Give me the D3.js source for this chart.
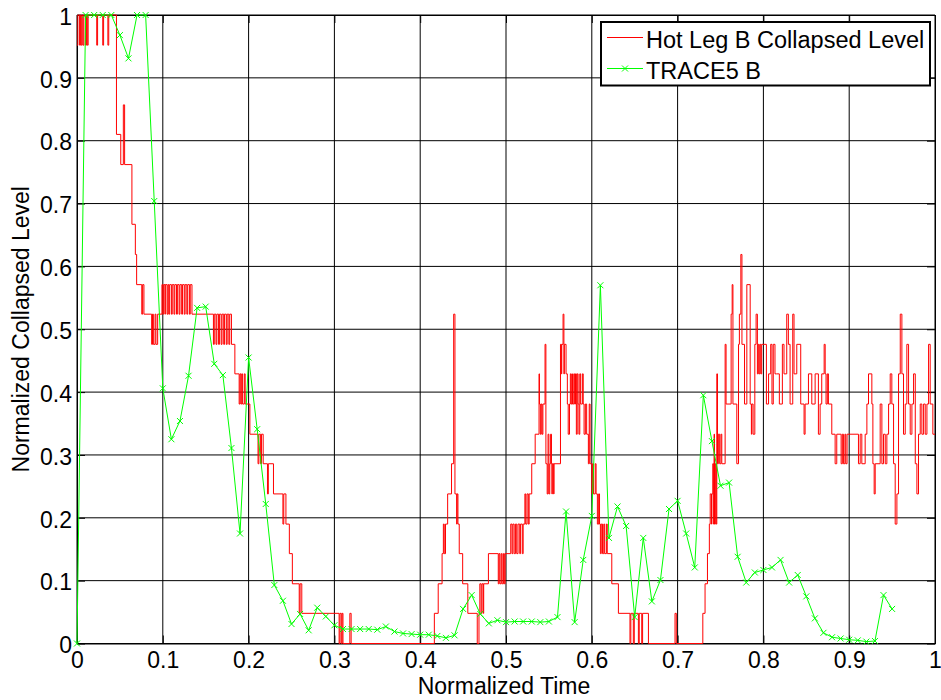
<!DOCTYPE html>
<html lang="en">
<head>
<meta charset="UTF-8" />
<title>Normalized Collapsed Level</title>
<script src="https://d3js.org/d3.v7.min.js"></script>
<style>
  html, body { margin: 0; padding: 0; background: #fff; }
  svg { display: block; font-family: Arial, "Liberation Sans", Helvetica, sans-serif; }
</style>
</head>
<body>
<div id="chart"></div>
<script>
// --- Data ---
const tickValues = [0, 0.1, 0.2, 0.3, 0.4, 0.5, 0.6, 0.7, 0.8, 0.9, 1];
const tickLabels = ["0", "0.1", "0.2", "0.3", "0.4", "0.5", "0.6", "0.7", "0.8", "0.9", "1"];
const seriesNames = ["Hot Leg B Collapsed Level", "TRACE5 B"];

// TRACE5 B, one point every 0.01
const traceTime = [
  0, 0.01, 0.02, 0.03, 0.04, 0.05, 0.06, 0.07, 0.08, 0.09,
  0.10, 0.11, 0.12, 0.13, 0.14, 0.15, 0.16, 0.17, 0.18, 0.19,
  0.20, 0.21, 0.22, 0.23, 0.24, 0.25, 0.26, 0.27, 0.28, 0.29,
  0.30, 0.31, 0.32, 0.33, 0.34, 0.35, 0.36, 0.37, 0.38, 0.39,
  0.40, 0.41, 0.42, 0.43, 0.44, 0.45, 0.46, 0.47, 0.48, 0.49,
  0.50, 0.51, 0.52, 0.53, 0.54, 0.55, 0.56, 0.57, 0.58, 0.59,
  0.60, 0.61, 0.62, 0.63, 0.64, 0.65, 0.66, 0.67, 0.68, 0.69,
  0.70, 0.71, 0.72, 0.73, 0.74, 0.75, 0.76, 0.77, 0.78, 0.79,
  0.80, 0.81, 0.82, 0.83, 0.84, 0.85, 0.86, 0.87, 0.88, 0.89,
  0.90, 0.91, 0.92, 0.93, 0.94, 0.95
];
const traceLevel = [
  0, 1, 1, 1, 1, 0.968, 0.931, 1, 1, 0.704,
  0.406, 0.325, 0.354, 0.426, 0.534, 0.536, 0.445, 0.427, 0.311, 0.175,
  0.455, 0.341, 0.222, 0.093, 0.068, 0.031, 0.047, 0.021, 0.057, 0.043,
  0.029, 0.023, 0.023, 0.023, 0.023, 0.022, 0.027, 0.019, 0.016, 0.015,
  0.014, 0.014, 0.012, 0.009, 0.013, 0.055, 0.077, 0.047, 0.032, 0.037,
  0.034, 0.035, 0.035, 0.035, 0.034, 0.035, 0.042, 0.21, 0.034, 0.133,
  0.203, 0.57, 0.168, 0.218, 0.187, 0.042, 0.168, 0.067, 0.101, 0.214,
  0.227, 0.175, 0.121, 0.395, 0.322, 0.251, 0.256, 0.138, 0.097, 0.113,
  0.117, 0.121, 0.133, 0.097, 0.109, 0.075, 0.040, 0.017, 0.010, 0.008,
  0.006, 0.005, 0.003, 0.004, 0.077, 0.055
];

// Hot Leg B measured level: change points (time, level held until next time)
const hotLegTime = [
  0, 0.001, 0.003, 0.004, 0.005, 0.006, 0.007, 0.008, 0.010, 0.011, 0.012, 0.013,
  0.023, 0.024, 0.030, 0.031, 0.036, 0.037,
  0.046, 0.051, 0.054, 0.0555, 0.064, 0.068, 0.0695, 0.0755, 0.0765, 0.078,
  0.087, 0.088, 0.089, 0.091, 0.092, 0.094,
  0.099, 0.100, 0.101, 0.1025, 0.103, 0.105, 0.106, 0.107, 0.108, 0.110, 0.111, 0.113,
  0.114, 0.116, 0.117, 0.119, 0.120, 0.122, 0.123, 0.125, 0.126, 0.128, 0.129, 0.131,
  0.132, 0.134,
  0.159, 0.160, 0.162, 0.163, 0.165, 0.166, 0.168, 0.169, 0.171, 0.172, 0.174, 0.175,
  0.177, 0.178, 0.180, 0.184,
  0.189, 0.190, 0.191, 0.192, 0.193, 0.195, 0.196, 0.2015,
  0.211, 0.212, 0.214, 0.215, 0.217, 0.222, 0.223, 0.229,
  0.240, 0.241, 0.2435, 0.2475, 0.251, 0.259, 0.260, 0.262,
  0.3055, 0.3065, 0.308, 0.309, 0.310, 0.318, 0.3195,
  0.4165, 0.421, 0.4255, 0.427, 0.428, 0.4295, 0.432, 0.4365, 0.439, 0.4405,
  0.4425, 0.443, 0.444, 0.4455, 0.4495, 0.4555, 0.4665, 0.4685, 0.4695, 0.471,
  0.472, 0.4735, 0.474, 0.4795,
  0.491, 0.492, 0.493, 0.4945, 0.4955, 0.497, 0.498, 0.499,
  0.5055, 0.507, 0.508, 0.5095, 0.511, 0.5125, 0.514, 0.516, 0.517, 0.519, 0.520,
  0.522, 0.523, 0.5245, 0.526, 0.527, 0.530, 0.534,
  0.5385, 0.539, 0.540, 0.541, 0.542, 0.543, 0.5455, 0.5465, 0.548, 0.549, 0.550,
  0.551, 0.552, 0.553, 0.5535, 0.554, 0.5555, 0.556,
  0.5635, 0.5645, 0.565, 0.5665, 0.5675, 0.568, 0.570, 0.5715, 0.5725, 0.574, 0.575,
  0.576, 0.577, 0.5775, 0.579, 0.580, 0.581, 0.582, 0.583, 0.584, 0.585, 0.586,
  0.587, 0.589, 0.590, 0.591, 0.5925, 0.594, 0.596, 0.597, 0.598,
  0.600, 0.601, 0.602, 0.604, 0.605, 0.6065, 0.608, 0.609, 0.610, 0.611, 0.6125,
  0.614, 0.615, 0.617, 0.618, 0.6233, 0.631,
  0.6445, 0.6455, 0.6484, 0.6495, 0.6543, 0.6553, 0.6582, 0.6592, 0.666,
  0.697, 0.6985,
  0.7294, 0.732, 0.7348, 0.737, 0.738, 0.7395, 0.740, 0.741, 0.742, 0.7425, 0.743,
  0.744, 0.745, 0.7457, 0.7465, 0.7475, 0.749, 0.7505, 0.7515, 0.7554, 0.7565,
  0.7624, 0.7636, 0.7645, 0.769, 0.771, 0.772, 0.7737, 0.775, 0.778, 0.7807,
  0.7846, 0.786, 0.7865, 0.788, 0.790, 0.7915, 0.793, 0.794, 0.795, 0.796, 0.797,
  0.798,
  0.8035, 0.806, 0.8085, 0.810, 0.8115, 0.8135, 0.8155, 0.8186, 0.8221, 0.824,
  0.8272, 0.8291, 0.8311, 0.8342, 0.8357, 0.8389, 0.8435, 0.8474, 0.8486, 0.8525,
  0.8564, 0.8603, 0.8641, 0.8661, 0.868, 0.8708, 0.872, 0.873, 0.8745, 0.8758,
  0.8797, 0.8836, 0.8855, 0.8906, 0.892, 0.8933, 0.895, 0.896, 0.8975,
  0.9108, 0.9128, 0.9147, 0.9186, 0.9206, 0.9225, 0.9264, 0.9276, 0.9291, 0.9303,
  0.9361, 0.9381, 0.940, 0.942, 0.9439, 0.9459, 0.9478, 0.9497, 0.9517, 0.9536,
  0.9556, 0.9575, 0.9595, 0.9614, 0.9633, 0.9653, 0.9672, 0.9692, 0.9711, 0.9731,
  0.975, 0.977, 0.9789, 0.9808, 0.9828, 0.9847, 0.9867, 0.9886, 0.9906, 0.9925,
  0.9944, 0.9975, 1.0
];
const hotLegLevel = [
  0.952, 1, 0.952, 1, 0.952, 1, 0.952, 1, 0.952, 1, 0.952, 1,
  0.952, 1, 0.952, 1, 0.952, 1,
  0.810, 0.762, 0.857, 0.762, 0.667, 0.619, 0.571, 0.524, 0.571, 0.524,
  0.476, 0.524, 0.476, 0.524, 0.476, 0.524,
  0.571, 0.524, 0.571, 0.524, 0.571, 0.524, 0.571, 0.524, 0.571, 0.524, 0.571, 0.524,
  0.571, 0.524, 0.571, 0.524, 0.571, 0.524, 0.571, 0.524, 0.571, 0.524, 0.571, 0.524,
  0.571, 0.524,
  0.476, 0.524, 0.476, 0.524, 0.476, 0.524, 0.476, 0.524, 0.476, 0.524, 0.476, 0.524,
  0.476, 0.524, 0.476, 0.429,
  0.381, 0.429, 0.381, 0.429, 0.381, 0.429, 0.381, 0.333,
  0.286, 0.333, 0.286, 0.333, 0.286, 0.238, 0.286, 0.238,
  0.190, 0.238, 0.190, 0.143, 0.095, 0.048, 0.095, 0.048,
  0, 0.048, 0, 0.048, 0, 0.048, 0,
  0.048, 0.095, 0.143, 0.190, 0.143, 0.190, 0.238, 0.286, 0.524, 0.238,
  0.190, 0.238, 0.190, 0.143, 0.095, 0.048, 0, 0.048, 0.095, 0.048,
  0.095, 0.048, 0.095, 0.143,
  0.095, 0.143, 0.095, 0.143, 0.095, 0.143, 0.095, 0.143,
  0.190, 0.143, 0.190, 0.143, 0.190, 0.143, 0.190, 0.143, 0.190, 0.143, 0.190,
  0.238, 0.190, 0.238, 0.190, 0.238, 0.286, 0.333,
  0.429, 0.381, 0.333, 0.381, 0.333, 0.381, 0.476, 0.286, 0.238, 0.333, 0.238,
  0.286, 0.333, 0.286, 0.238, 0.286, 0.238, 0.286,
  0.476, 0.429, 0.476, 0.524, 0.429, 0.476, 0.429, 0.381, 0.333, 0.381, 0.429,
  0.381, 0.429, 0.381, 0.429, 0.381, 0.429, 0.333, 0.429, 0.381, 0.333, 0.429,
  0.381, 0.429, 0.381, 0.333, 0.381, 0.333, 0.286, 0.381, 0.286,
  0.238, 0.286, 0.238, 0.286, 0.238, 0.190, 0.238, 0.190, 0.143, 0.190, 0.143,
  0.190, 0.143, 0.190, 0.143, 0.095, 0.048,
  0, 0.048, 0, 0.048, 0, 0.048, 0, 0.048, 0,
  0.048, 0,
  0.048, 0.095, 0.143, 0.190, 0.238, 0.190, 0.238, 0.286, 0.190, 0.333, 0.190,
  0.286, 0.190, 0.429, 0.286, 0.333, 0.286, 0.333, 0.286, 0.476, 0.381,
  0.524, 0.571, 0.381, 0.286, 0.476, 0.524, 0.619, 0.476, 0.381, 0.571,
  0.381, 0.333, 0.381, 0.333, 0.476, 0.524, 0.429, 0.476, 0.429, 0.476, 0.429,
  0.476,
  0.381, 0.429, 0.476, 0.381, 0.476, 0.429, 0.429, 0.381, 0.476, 0.429,
  0.524, 0.476, 0.381, 0.524, 0.429, 0.476, 0.381, 0.333, 0.381, 0.429,
  0.381, 0.429, 0.333, 0.381, 0.429, 0.476, 0.429, 0.381, 0.429, 0.381,
  0.333, 0.286, 0.333, 0.286, 0.333, 0.286, 0.333, 0.286, 0.333,
  0.286, 0.333, 0.286, 0.333, 0.381, 0.429, 0.381, 0.286, 0.238, 0.286,
  0.381, 0.286, 0.333, 0.286, 0.333, 0.381, 0.429, 0.381, 0.286, 0.190,
  0.238, 0.429, 0.524, 0.429, 0.333, 0.381, 0.476, 0.381, 0.333, 0.381,
  0.429, 0.286, 0.238, 0.333, 0.381, 0.333, 0.381, 0.333, 0.381, 0.476,
  0.381, 0.333, 0.333
];

// --- Layout ---
const W = 941, H = 700;
const plot = { left: 77, right: 935, top: 15, bottom: 643.5 };
const fontSize = 23;
const legendFontSize = 23.5;

const svg = d3.select("#chart").append("svg")
  .attr("width", W)
  .attr("height", H);

const x = d3.scaleLinear().domain([0, 1]).range([plot.left, plot.right]);
const y = d3.scaleLinear().domain([0, 1]).range([plot.bottom, plot.top]);

// grid
const grid = svg.append("g").attr("stroke", "#000").attr("stroke-width", 1);
grid.selectAll(".gx").data(tickValues).join("line")
  .attr("x1", d => x(d)).attr("x2", d => x(d))
  .attr("y1", plot.top).attr("y2", plot.bottom);
grid.selectAll(".gy").data(tickValues).join("line")
  .attr("class", "gy")
  .attr("y1", d => y(d)).attr("y2", d => y(d))
  .attr("x1", plot.left).attr("x2", plot.right);

// axes, ticks inside like matlab
function styleAxis(g) {
  g.select(".domain").attr("stroke", "#000").attr("stroke-width", 1);
  g.selectAll(".tick line").attr("stroke", "#000");
  g.selectAll("text").attr("fill", "#000").style("font-size", fontSize + "px")
    .style("font-family", "Arial, 'Liberation Sans', sans-serif");
}

const fmt = (d, i) => tickLabels[i];

svg.append("g")
  .attr("transform", `translate(0,${plot.bottom})`)
  .call(d3.axisBottom(x).tickValues(tickValues).tickFormat(fmt).tickSizeInner(-8).tickSizeOuter(0).tickPadding(8))
  .call(styleAxis);

svg.append("g")
  .attr("transform", `translate(0,${plot.top})`)
  .call(d3.axisTop(x).tickValues(tickValues).tickFormat("").tickSizeInner(-8).tickSizeOuter(0))
  .call(styleAxis);

const yAxis = svg.append("g")
  .attr("transform", `translate(${plot.left},0)`)
  .call(d3.axisLeft(y).tickValues(tickValues).tickFormat(fmt).tickSizeInner(-8).tickSizeOuter(0).tickPadding(5))
  .call(styleAxis);
yAxis.selectAll("text").attr("dy", "0.4em");

svg.append("g")
  .attr("transform", `translate(${plot.right},0)`)
  .call(d3.axisRight(y).tickValues(tickValues).tickFormat("").tickSizeInner(-8).tickSizeOuter(0))
  .call(styleAxis);

// --- Series ---
const hotLeg = hotLegTime.map((t, i) => ({ t: t, v: hotLegLevel[i] }));
const trace = traceTime.map((t, i) => ({ t: t, v: traceLevel[i] }));

const stepLine = d3.line().x(d => x(d.t)).y(d => y(d.v)).curve(d3.curveStepAfter);
const plainLine = d3.line().x(d => x(d.t)).y(d => y(d.v));

svg.append("path")
  .datum(hotLeg)
  .attr("d", stepLine)
  .attr("fill", "none")
  .attr("stroke", "#ff0000")
  .attr("stroke-width", 1);

svg.append("path")
  .datum(trace)
  .attr("d", plainLine)
  .attr("fill", "none")
  .attr("stroke", "#00ff00")
  .attr("stroke-width", 1);

// x markers
const m = 3;
function xMarker(sel) {
  sel.append("line").attr("x1", -m).attr("y1", -m).attr("x2", m).attr("y2", m);
  sel.append("line").attr("x1", -m).attr("y1", m).attr("x2", m).attr("y2", -m);
}
svg.append("g")
  .attr("stroke", "#00ff00")
  .attr("stroke-width", 1)
  .selectAll("g").data(trace).join("g")
  .attr("transform", d => `translate(${x(d.t)},${y(d.v)})`)
  .each(function () { xMarker(d3.select(this)); });

// --- Axis titles ---
svg.append("text")
  .attr("x", (plot.left + plot.right) / 2 - 2)
  .attr("y", 694)
  .attr("text-anchor", "middle")
  .style("font-size", fontSize + "px")
  .text("Normalized Time");

svg.append("text")
  .attr("transform", `translate(28.5,${(plot.top + plot.bottom) / 2}) rotate(-90)`)
  .attr("text-anchor", "middle")
  .style("font-size", fontSize + "px")
  .text("Normalized Collapsed Level");

// --- Legend ---
const legend = svg.append("g");
legend.append("rect")
  .attr("x", 601).attr("y", 22)
  .attr("width", 329).attr("height", 63.5)
  .attr("fill", "#fff")
  .attr("stroke", "#000")
  .attr("stroke-width", 2);

const legendColors = ["#ff0000", "#00ff00"];
const legendY = [37.5, 68.5];
seriesNames.forEach((name, i) => {
  legend.append("line")
    .attr("x1", 607).attr("x2", 643)
    .attr("y1", legendY[i]).attr("y2", legendY[i])
    .attr("stroke", legendColors[i]).attr("stroke-width", 1);
  if (i === 1) {
    const mk = legend.append("g")
      .attr("transform", `translate(625,${legendY[i]})`)
      .attr("stroke", legendColors[i]);
    xMarker(mk);
  }
  legend.append("text")
    .attr("x", 646)
    .attr("y", legendY[i] + 10.5)
    .style("font-size", legendFontSize + "px")
    .text(name);
});
</script>
</body>
</html>
